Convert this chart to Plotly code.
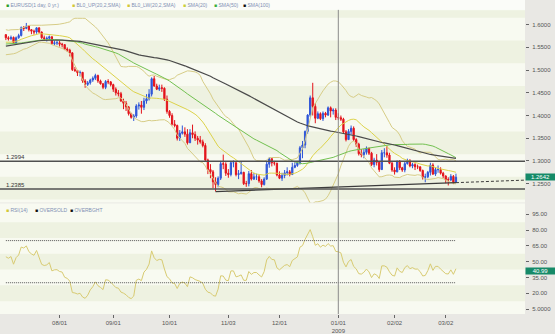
import plotly.graph_objects as go
import pandas as pd
import numpy as np

# ---------------- DATA ----------------
# closes before the visible window (needed only to seed the moving averages / RSI)
pre_close = [
    1.456, 1.456, 1.459, 1.462, 1.468,
    1.468, 1.473, 1.469, 1.464, 1.482,
    1.481, 1.497, 1.508, 1.510, 1.519,
    1.521, 1.520, 1.524, 1.533, 1.536,
    1.535, 1.543, 1.560, 1.562, 1.566,
    1.575, 1.570, 1.578, 1.545, 1.542,
    1.545, 1.560, 1.578, 1.579, 1.581,
    1.579, 1.561, 1.560, 1.566, 1.574,
    1.572, 1.573, 1.583, 1.586, 1.580,
    1.581, 1.580, 1.594, 1.586, 1.580,
    1.597, 1.600, 1.595, 1.568, 1.563,
    1.566, 1.555, 1.558, 1.548, 1.538,
    1.548, 1.545, 1.536, 1.539, 1.547,
    1.553, 1.547, 1.542, 1.548, 1.552,
    1.552, 1.565, 1.572, 1.578, 1.576,
    1.572, 1.572, 1.570, 1.555, 1.554,
    1.552, 1.549, 1.535, 1.556, 1.578,
    1.560, 1.546, 1.549, 1.541, 1.539,
    1.546, 1.551, 1.552, 1.555, 1.562,
    1.553, 1.560, 1.571, 1.578, 1.580,
    1.577, 1.580, 1.578,
]

close_jul = [1.5712, 1.5690, 1.5718, 1.5605, 1.5712, 1.5760, 1.5932, 1.5918, 1.5968, 1.5890, 1.5858,
             1.5838, 1.5930, 1.5838, 1.5712, 1.5690, 1.5700, 1.5735, 1.5585, 1.5600, 1.5602]
high_jul = [1.5790, 1.5745, 1.5760, 1.5740, 1.5740, 1.5800, 1.5960, 1.5970, 1.6038, 1.5990, 1.5900,
            1.5890, 1.5940, 1.5940, 1.5850, 1.5760, 1.5740, 1.5760, 1.5740, 1.5650, 1.5650]
low_jul = [1.5660, 1.5650, 1.5660, 1.5580, 1.5580, 1.5690, 1.5740, 1.5860, 1.5900, 1.5850, 1.5790,
           1.5780, 1.5800, 1.5810, 1.5690, 1.5650, 1.5630, 1.5660, 1.5560, 1.5550, 1.5550]

close_aug = [1.5570, 1.5560, 1.5462, 1.5440, 1.5380, 1.5010, 1.4990, 1.4942, 1.4950, 1.4762, 1.4685,
             1.4720, 1.4782, 1.4820, 1.4880, 1.4762, 1.4700, 1.4620, 1.4750, 1.4740, 1.4680]
high_aug = [1.5640, 1.5600, 1.5570, 1.5500, 1.5470, 1.5390, 1.5070, 1.5000, 1.4990, 1.4960, 1.4800,
            1.4760, 1.4810, 1.4860, 1.4920, 1.4900, 1.4790, 1.4710, 1.4780, 1.4800, 1.4760]
low_aug = [1.5520, 1.5500, 1.5440, 1.5400, 1.5300, 1.4980, 1.4960, 1.4870, 1.4860, 1.4720, 1.4610,
           1.4650, 1.4680, 1.4740, 1.4780, 1.4720, 1.4680, 1.4580, 1.4580, 1.4690, 1.4640]

close_sep = [1.4580, 1.4500, 1.4480, 1.4320, 1.4270, 1.4190, 1.4040, 1.3960, 1.3990, 1.4210, 1.4230,
             1.4180, 1.4320, 1.4370, 1.4470, 1.4810, 1.4650, 1.4580, 1.4610, 1.4600, 1.4360, 1.4090]
high_sep = [1.4700, 1.4620, 1.4560, 1.4520, 1.4370, 1.4320, 1.4210, 1.4060, 1.4030, 1.4250, 1.4290,
            1.4320, 1.4390, 1.4470, 1.4580, 1.4840, 1.4870, 1.4700, 1.4680, 1.4680, 1.4620, 1.4440]
low_sep = [1.4520, 1.4440, 1.4420, 1.4300, 1.4140, 1.4100, 1.4000, 1.3930, 1.3880, 1.3950, 1.4130,
           1.4040, 1.4120, 1.4260, 1.4330, 1.4420, 1.4630, 1.4560, 1.4540, 1.4520, 1.4320, 1.4040]

close_oct = [1.4000, 1.3810, 1.3780, 1.3500, 1.3610, 1.3640, 1.3590, 1.3400, 1.3620, 1.3580, 1.3500,
             1.3460, 1.3420, 1.3340, 1.3020, 1.2810, 1.2760, 1.2540, 1.2480, 1.2620, 1.2940, 1.2930, 1.2730]
high_oct = [1.4120, 1.4050, 1.3900, 1.3800, 1.3680, 1.3780, 1.3740, 1.3700, 1.3700, 1.3800, 1.3650,
            1.3550, 1.3550, 1.3470, 1.3390, 1.3050, 1.2930, 1.2800, 1.2640, 1.2660, 1.3000, 1.3140, 1.2970]
low_oct = [1.3950, 1.3780, 1.3740, 1.3450, 1.3440, 1.3580, 1.3530, 1.3360, 1.3400, 1.3500, 1.3440,
           1.3360, 1.3380, 1.3300, 1.2990, 1.2710, 1.2620, 1.2400, 1.2330, 1.2420, 1.2580, 1.2820, 1.2670]

close_nov = [1.2700, 1.2960, 1.2960, 1.2700, 1.2720, 1.2750, 1.2500, 1.2500, 1.2720, 1.2600,
             1.2650, 1.2650, 1.2560, 1.2480, 1.2600, 1.2930, 1.3050, 1.2960, 1.2950, 1.2690]
high_nov = [1.2820, 1.2990, 1.3010, 1.2970, 1.2800, 1.2980, 1.2760, 1.2560, 1.2780, 1.2800,
            1.2740, 1.2720, 1.2700, 1.2600, 1.2640, 1.2980, 1.3080, 1.3060, 1.3000, 1.2960]
low_nov = [1.2630, 1.2660, 1.2860, 1.2660, 1.2600, 1.2700, 1.2470, 1.2430, 1.2440, 1.2570,
           1.2580, 1.2580, 1.2520, 1.2420, 1.2460, 1.2580, 1.2850, 1.2880, 1.2900, 1.2660]

close_dec = [1.2620, 1.2680, 1.2740, 1.2760, 1.2700, 1.2860, 1.2900, 1.2960, 1.3290, 1.3350, 1.3650,
             1.4010, 1.4390, 1.4200, 1.3940, 1.4040, 1.3930, 1.4050, 1.4010, 1.4170, 1.4100, 1.4120, 1.3960]
high_dec = [1.2770, 1.2740, 1.2800, 1.2860, 1.2800, 1.2960, 1.2970, 1.3000, 1.3330, 1.3440, 1.3670,
            1.4030, 1.4440, 1.4720, 1.4270, 1.4090, 1.4070, 1.4090, 1.4080, 1.4200, 1.4200, 1.4160, 1.4160]
low_dec = [1.2600, 1.2560, 1.2620, 1.2680, 1.2660, 1.2690, 1.2840, 1.2870, 1.2920, 1.3060, 1.3280,
           1.3600, 1.3970, 1.4000, 1.3830, 1.3920, 1.3900, 1.3880, 1.3960, 1.3990, 1.3960, 1.4020, 1.3900]

close_jan = [1.3950, 1.3920, 1.3640, 1.3470, 1.3650, 1.3720, 1.3470, 1.3370, 1.3160, 1.3140, 1.3190,
             1.3280, 1.3170, 1.2920, 1.3020, 1.2970, 1.2810, 1.3180, 1.3180, 1.3130, 1.2950, 1.2800]
high_jan = [1.4050, 1.4000, 1.3950, 1.3680, 1.3700, 1.3780, 1.3760, 1.3500, 1.3400, 1.3260, 1.3260,
            1.3320, 1.3290, 1.3200, 1.3070, 1.3150, 1.3000, 1.3240, 1.3280, 1.3330, 1.3180, 1.2990]
low_jan = [1.3900, 1.3880, 1.3600, 1.3430, 1.3470, 1.3580, 1.3440, 1.3310, 1.3120, 1.3080, 1.3060,
           1.3140, 1.3130, 1.2890, 1.2860, 1.2900, 1.2760, 1.2800, 1.3080, 1.3070, 1.2930, 1.2760]

close_feb = [1.2760, 1.2990, 1.2850, 1.2800, 1.2940, 1.3000, 1.2890, 1.2920, 1.2870, 1.2870,
             1.2790, 1.2640, 1.2650, 1.2750, 1.2910, 1.2710, 1.2810, 1.2810, 1.2730, 1.2670]
high_feb = [1.2860, 1.3010, 1.3020, 1.2870, 1.2980, 1.3050, 1.3040, 1.2960, 1.2950, 1.2920,
            1.2880, 1.2810, 1.2720, 1.2780, 1.2960, 1.2950, 1.2860, 1.2900, 1.2860, 1.2760]
low_feb = [1.2700, 1.2750, 1.2800, 1.2760, 1.2750, 1.2920, 1.2860, 1.2840, 1.2800, 1.2820,
           1.2760, 1.2590, 1.2530, 1.2620, 1.2680, 1.2690, 1.2670, 1.2740, 1.2700, 1.2620]

close_mar = [1.2590, 1.2580, 1.2660, 1.2530, 1.2642]
high_mar = [1.2680, 1.2640, 1.2710, 1.2690, 1.2720]
low_mar = [1.2510, 1.2460, 1.2560, 1.2490, 1.2520]

first_date = "2008-07-03"
x_tick_dates = ["2008-08-01", "2008-09-01", "2008-10-01", "2008-11-03",
                "2008-12-01", "2009-01-01", "2009-02-02", "2009-03-02"]
x_tick_text = ["08/01", "09/01", "10/01", "11/03", "12/01", "01/01<br>2009", "02/02", "03/02"]
price_ticks = [1.25, 1.30, 1.35, 1.40, 1.45, 1.50, 1.55, 1.60]
price_tick_text = ["1.2500", "1.3000", "1.3500", "1.4000", "1.4500", "1.5000", "1.5500", "1.6000"]
rsi_ticks = [5, 20, 35, 50, 65, 80, 95]
rsi_tick_text = ["5.0000", "20.00", "35.00", "50.00", "65.00", "80.00", "95.00"]

levels = [1.2994, 1.2385]
level_text = ["1.2994", "1.2385"]
trend_dates = ["2008-10-27", "2009-03-06", "2009-04-14"]
trend_values = [1.2326, 1.2522, 1.2578]
last_price = 1.2642
last_rsi = 40.99
overbought, oversold = 70, 30
year_mark = "2009-01-01"

# ---------------- BUILD ----------------
closes = close_jul + close_aug + close_sep + close_oct + close_nov + close_dec + close_jan + close_feb + close_mar
highs = high_jul + high_aug + high_sep + high_oct + high_nov + high_dec + high_jan + high_feb + high_mar
lows = low_jul + low_aug + low_sep + low_oct + low_nov + low_dec + low_jan + low_feb + low_mar
opens = [pre_close[-1]] + closes[:-1]
highs = [max(h, o, c) for h, o, c in zip(highs, opens, closes)]
lows = [min(l, o, c) for l, o, c in zip(lows, opens, closes)]

dates = pd.bdate_range(first_date, periods=len(closes))
pre_dates = pd.bdate_range(end=dates[0] - pd.Timedelta(days=1), periods=len(pre_close))
allc = pd.Series(pre_close + closes, index=pre_dates.append(dates))

sma20 = allc.rolling(20).mean()
sd20 = allc.rolling(20).std(ddof=0)
bb_up = sma20 + 2 * sd20
bb_lw = sma20 - 2 * sd20
sma50 = allc.rolling(50).mean()
sma100 = allc.rolling(100).mean()
d = allc.diff()
gain = d.clip(lower=0).ewm(alpha=1 / 14, adjust=False).mean()
loss = (-d.clip(upper=0)).ewm(alpha=1 / 14, adjust=False).mean()
rsi = 100 - 100 / (1 + gain / loss)

sl = slice(len(pre_close), None)

# pixel geometry
W, H = 555, 334
ML, MR, MT, MB = 0, 30, 0, 16
PW = W - ML - MR
PH = H - MT - MB
price_dom = [1 - 205 / PH, 1]
rsi_dom = [0, 112 / PH]
price_range = [1.2087, 1.6543]
rsi_range = [0.31, 105.31]
x_range = ["2008-06-30 17:00", "2009-04-14"]

fig = go.Figure()

fig.add_trace(go.Candlestick(
    x=dates, open=opens, high=highs, low=lows, close=closes,
    increasing=dict(line=dict(color="#2f56d8", width=1), fillcolor="#2f56d8"),
    decreasing=dict(line=dict(color="#e3131b", width=1), fillcolor="#e3131b"),
    whiskerwidth=0, xaxis="x", yaxis="y", hoverinfo="skip"))

line_specs = [
    (bb_up, "#d6cc86", 1),
    (bb_lw, "#d6cc86", 1),
    (sma20, "#dcd24a", 1),
    (sma50, "#72c050", 1),
    (sma100, "#4a4a4a", 1.2),
]
for s, col, w in line_specs:
    fig.add_trace(go.Scatter(x=dates, y=s.iloc[sl].values, mode="lines",
                             line=dict(color=col, width=w), xaxis="x", yaxis="y", hoverinfo="skip"))

# trend line: solid then dashed extension
fig.add_trace(go.Scatter(x=trend_dates[:2], y=trend_values[:2], mode="lines",
                         line=dict(color="#3c3c3c", width=1.2), xaxis="x", yaxis="y"))
fig.add_trace(go.Scatter(x=trend_dates[1:], y=trend_values[1:], mode="lines",
                         line=dict(color="#3c3c3c", width=1, dash="3px,2px"), xaxis="x", yaxis="y"))

# RSI
fig.add_trace(go.Scatter(x=dates, y=rsi.iloc[sl].values, mode="lines",
                         line=dict(color="#d8cb72", width=1), xaxis="x2", yaxis="y2", hoverinfo="skip"))
for lv in (overbought, oversold):
    fig.add_trace(go.Scatter(x=[dates[0], dates[-1]], y=[lv, lv], mode="lines",
                             line=dict(color="#555555", width=1, dash="1px,1px"), xaxis="x2", yaxis="y2"))

shapes = []
# whitish strip behind the legend
shapes.append(dict(type="rect", xref="paper", yref="paper", x0=0, x1=1, y0=1 - 10 / PH, y1=1,
                   fillcolor="#fbfcf8", line=dict(width=0), layer="below"))
# background bands
for b in [1.215, 1.315, 1.415, 1.515, 1.615]:
    shapes.append(dict(type="rect", xref="paper", yref="y", x0=0, x1=1, y0=b, y1=min(b + 0.05, 1.632),
                       fillcolor="#eef2e1", line=dict(width=0), layer="below"))
for b in [72.5, 42.5, 12.5]:
    shapes.append(dict(type="rect", xref="paper", yref="y2", x0=0, x1=1, y0=b, y1=b + 15,
                       fillcolor="#eef2e1", line=dict(width=0), layer="below"))
# level lines
for lv in levels:
    shapes.append(dict(type="line", xref="paper", yref="y", x0=0, x1=1, y0=lv, y1=lv,
                       line=dict(color="#505050", width=1.5)))
# year separator
shapes.append(dict(type="line", xref="x", yref="paper", x0=year_mark, x1=year_mark,
                   y0=0, y1=1 - 10 / PH, line=dict(color="#8a8a8a", width=1)))

ann = []
lab_font = dict(family="Liberation Sans, Arial", size=5, color="#8190b4")
legend_items = [
    (4, "#2ca02c", "EURUSD(1 day, 0 yr.)"),
    (70, "#d2c838", "BL0_UP(20,2,SMA)"),
    (125, "#d2c838", "BL0_LW(20,2,SMA)"),
    (181, "#c9cf3a", "SMA(20)"),
    (212, "#3cae3c", "SMA(50)"),
    (241, "#111111", "SMA(100)"),
]
for px, col, t in legend_items:
    ann.append(dict(xref="paper", yref="paper", x=px / PW, y=1 - 5 / PH,
                    xanchor="left", yanchor="middle", showarrow=False,
                    text=f"<span style='color:{col}'>■</span> {t}", font=lab_font))
rsi_items = [(4, "#d2c838", "RSI(14)"), (33, "#111111", "OVERSOLD"), (68, "#111111", "OVERBGHT")]
for px, col, t in rsi_items:
    ann.append(dict(xref="paper", yref="paper", x=px / PW, y=1 - 213 / PH,
                    xanchor="left", yanchor="middle", showarrow=False,
                    text=f"<span style='color:{col}'>■</span> {t}", font=lab_font))
for lv, t in zip(levels, level_text):
    ann.append(dict(xref="paper", yref="y", x=0.008, y=lv, xanchor="left", yanchor="bottom",
                    showarrow=False, text=t, yshift=-1,
                    font=dict(family="Liberation Sans, Arial", size=6, color="#333333")))
ann.append(dict(xref="paper", yref="y", x=1.0, y=last_price, xanchor="left", yanchor="middle",
                showarrow=False, text=f"{last_price:.4f}", bgcolor="#168a68", borderpad=0,
                font=dict(family="Liberation Sans, Arial", size=6, color="white"), width=29))
ann.append(dict(xref="paper", yref="y2", x=1.0, y=last_rsi, xanchor="left", yanchor="middle",
                showarrow=False, text=f"{last_rsi:.2f}", bgcolor="#168a68", borderpad=0,
                font=dict(family="Liberation Sans, Arial", size=6, color="white"), width=29))

tick_font = dict(family="Liberation Sans, Arial", size=6, color="#555555")
rb = [dict(bounds=["sat", "mon"])]
fig.update_layout(
    width=W, height=H, margin=dict(l=ML, r=MR, t=MT, b=MB),
    paper_bgcolor="#e9e8e4", plot_bgcolor="#f8faf1",
    showlegend=False, shapes=shapes, annotations=ann,
    xaxis=dict(domain=[0, 1], anchor="y", range=x_range, rangebreaks=rb, showticklabels=False,
               showgrid=False, zeroline=False, ticks="", rangeslider=dict(visible=False)),
    xaxis2=dict(domain=[0, 1], anchor="y2", range=x_range, rangebreaks=rb, showgrid=False,
                zeroline=False, tickvals=x_tick_dates, ticktext=x_tick_text, ticks="outside",
                ticklen=3, tickcolor="#666666", tickfont=tick_font, ticklabelstandoff=0),
    yaxis=dict(domain=price_dom, anchor="x", side="right", range=price_range, showgrid=False,
               zeroline=False, tickvals=price_ticks, ticktext=price_tick_text, ticks="outside",
               ticklen=3, tickcolor="#666666", tickfont=tick_font, ticklabelstandoff=2),
    yaxis2=dict(domain=rsi_dom, anchor="x2", side="right", range=rsi_range, showgrid=False,
                zeroline=False, tickvals=rsi_ticks, ticktext=rsi_tick_text, ticks="outside",
                ticklen=3, tickcolor="#666666", tickfont=tick_font, ticklabelstandoff=2),
)

fig.write_html("out.html")
